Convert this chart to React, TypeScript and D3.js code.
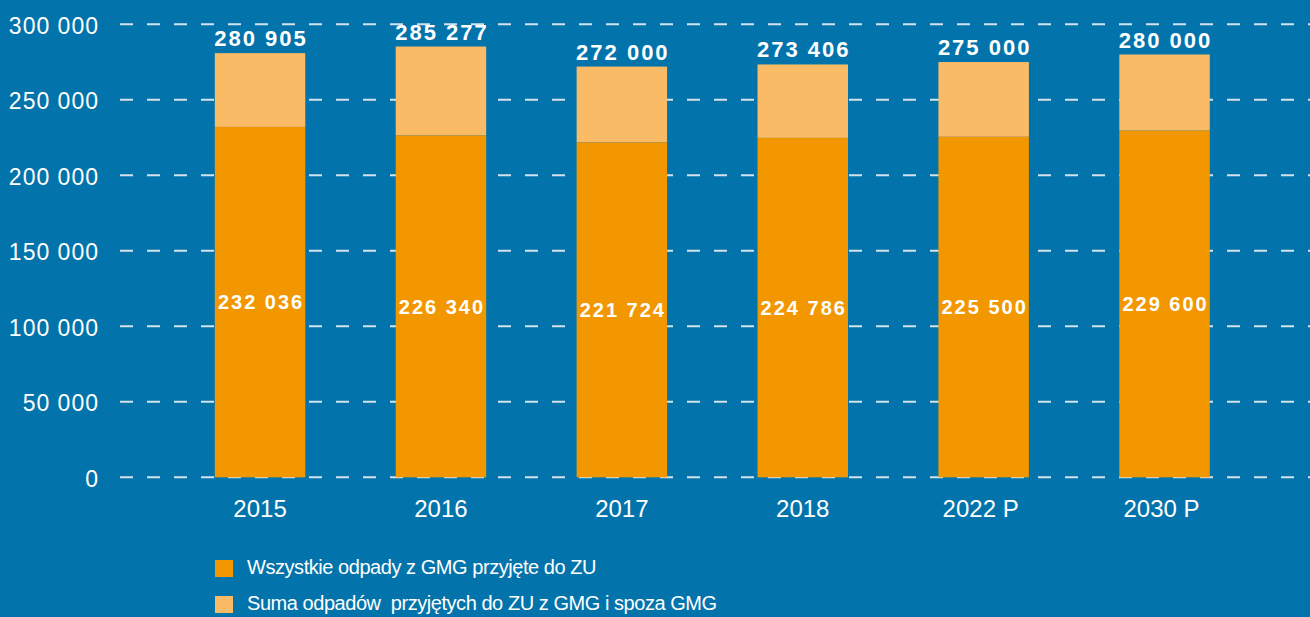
import React from "react";
import * as d3 from "d3";

const categories = ["2015", "2016", "2017", "2018", "2022 P", "2030 P"];
const gmgValues = [232036, 226340, 221724, 224786, 225500, 229600];
const totalValues = [280905, 285277, 272000, 273406, 275000, 280000];
const yTicks = [0, 50000, 100000, 150000, 200000, 250000, 300000];
const legendLabels = [
  "Wszystkie odpady z GMG przyjęte do ZU",
  "Suma odpadów  przyjętych do ZU z GMG i spoza GMG",
];

const W = 1310;
const H = 617;
const BG = "#0274AB";
const ORANGE = "#F39700";
const LIGHT = "#FABB66";
const FONT = "'Liberation Sans', Arial, Helvetica, sans-serif";

const fmt = (v: number) =>
  String(v).replace(/\B(?=(\d{3})+(?!\d))/g, " ");

export default function App() {
  const x = d3
    .scaleBand<string>()
    .domain(categories)
    .range([169.6, 1255])
    .paddingInner(0.5)
    .paddingOuter(0.25);
  const y = d3.scaleLinear().domain([0, 300000]).range([477.3, 24.3]);
  const bw = x.bandwidth();

  return (
    <div style={{ position: "absolute", left: 0, top: 0 }}>
      <svg width={W} height={H} style={{ display: "block" }} fontFamily={FONT}>
        <rect x={0} y={0} width={W} height={H} fill={BG} />
        {yTicks.map((t) => (
          <g key={t}>
            <line
              x1={120}
              x2={W}
              y1={y(t)}
              y2={y(t)}
              stroke="#D3E2EC"
              strokeWidth={2}
              strokeDasharray="13 14"
            />
            <text
              x={99}
              y={y(t)}
              dy="0.4em"
              textAnchor="end"
              fill="#fff"
              fontSize={23}
              letterSpacing={1}
            >
              {fmt(t)}
            </text>
          </g>
        ))}
        {categories.map((c, i) => {
          const x0 = x(c) as number;
          const cx = x0 + bw / 2;
          const yT = y(totalValues[i]);
          const yG = y(gmgValues[i]);
          return (
            <g key={c}>
              <rect x={x0} y={yT} width={bw} height={yG - yT} fill={LIGHT} />
              <rect x={x0} y={yG} width={bw} height={y(0) - yG} fill={ORANGE} />
              <text
                x={cx + 1}
                y={yT - 7}
                textAnchor="middle"
                fill="#fff"
                fontWeight="bold"
                fontSize={22}
                letterSpacing={2}
              >
                {fmt(totalValues[i])}
              </text>
              <text
                x={cx + 1}
                y={(yG + y(0)) / 2}
                dy="0.36em"
                textAnchor="middle"
                fill="#fff"
                fontWeight="bold"
                fontSize={20}
                letterSpacing={2}
              >
                {fmt(gmgValues[i])}
              </text>
              <text
                x={cx - (c.length > 4 ? 3 : 0)}
                y={517}
                textAnchor="middle"
                fill="#fff"
                fontSize={24}
              >
                {c}
              </text>
            </g>
          );
        })}
        {legendLabels.map((l, i) => (
          <g key={l}>
            <rect
              x={215}
              y={560 + i * 36}
              width={18}
              height={17}
              fill={i === 0 ? ORANGE : LIGHT}
            />
            <text
              x={247}
              y={574 + i * 36}
              fill="#fff"
              fontSize={20}
              letterSpacing={-0.45}
              style={{ whiteSpace: "pre" }}
            >
              {l}
            </text>
          </g>
        ))}
      </svg>
    </div>
  );
}
